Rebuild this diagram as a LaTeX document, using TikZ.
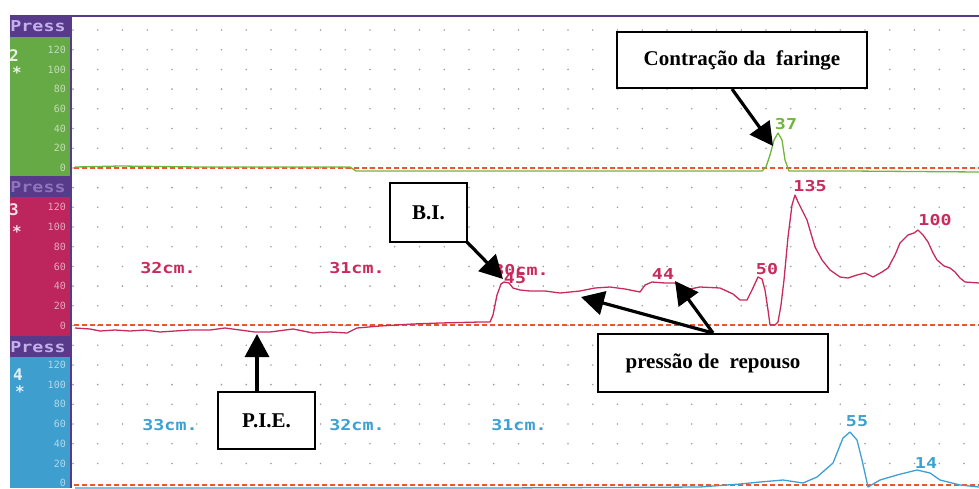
\documentclass[tikz,border=0pt]{standalone}
\usepackage{fontspec}
\usetikzlibrary{calc,arrows.meta}
\newfontfamily\notefont{Liberation Serif}
\newfontfamily\scopefont{DejaVu Sans Mono}
\newcommand{\widetxt}[1]{\scalebox{1.22}[1]{#1}}

\definecolor{headpurple}{RGB}{88,58,138}
\definecolor{presstext}{RGB}{196,176,236}
\definecolor{panelgreen}{RGB}{102,170,70}
\definecolor{panelred}{RGB}{188,38,92}
\definecolor{panelblue}{RGB}{62,158,206}
\definecolor{tracegreen}{RGB}{112,182,60}
\definecolor{tracered}{RGB}{200,42,92}
\definecolor{traceblue}{RGB}{60,160,212}
\definecolor{zerored}{RGB}{234,86,46}

\tikzset{
  note/.style={ % annotation box over the tracing
    draw, rectangle, line width=2pt, fill=white, inner sep=0pt,
    font=\notefont\bfseries\fontsize{21}{24}\selectfont
  },
  pointer/.style={line width=3.2pt, -{Triangle[length=23pt,width=24pt]}},
  scopelbl/.style={inner sep=0pt, font=\scopefont\bfseries\fontsize{15}{15}\selectfont},
  scalelbl/.style={anchor=east, inner sep=0pt, font=\scopefont\fontsize{10}{10}\selectfont},
  presslbl/.style={inner sep=0pt, text=presstext, font=\scopefont\bfseries\fontsize{15}{15}\selectfont},
  chanlbl/.style={inner sep=0pt, font=\scopefont\bfseries\fontsize{16}{16}\selectfont},
  trace/.style={line width=1.3pt, line join=round},
  zeroline/.style={draw=zerored, line width=1.9pt, dash pattern=on 5pt off 3pt}
}

\begin{document}
\begin{tikzpicture}[x=1pt, y=-1pt]
  \useasboundingbox (0,0) rectangle (979,488);

  % channel panels on the left
  \fill[headpurple] (10,15) rectangle (71,37);
  \fill[panelgreen] (10,37) rectangle (71,176);
  \fill[headpurple] (10,176) rectangle (71,197);
  \fill[panelred] (10,197) rectangle (71,336);
  \fill[headpurple] (10,336) rectangle (71,357);
  \fill[panelblue] (10,357) rectangle (71,488);

  \node[presslbl] (press2) at (38,26) {\widetxt{Press}};
  \node[presslbl, text=presstext!50!headpurple] (press3) at (38,187) {\widetxt{Press}};
  \node[presslbl] (press4) at (38,347) {\widetxt{Press}};

  \node[chanlbl, text=white!85!panelgreen] (ch2) at (14,56) {2};
  \node[chanlbl, text=white!85!panelgreen] (st2) at (17,73) {*};
  \node[chanlbl, text=white!85!panelred] (ch3) at (14,210) {3};
  \node[chanlbl, text=white!85!panelred] (st3) at (17,232) {*};
  \node[chanlbl, text=white!85!panelblue] (ch4) at (18,375) {4};
  \node[chanlbl, text=white!85!panelblue] (st4) at (20,392) {*};

  \foreach \v [count=\k] in {120,100,80,60,40,20,0} {
    \node[scalelbl, text=white!60!panelgreen] (g\v) at (66,{30+19.7*\k}) {\v};
    \node[scalelbl, text=white!60!panelred] (r\v) at (66,{30+19.7*(8+\k)}) {\v};
    \node[scalelbl, text=white!60!panelblue] (b\v) at (66,{30+19.7*(16+\k)}) {\v};
  }

  % chart frame and grid
  \draw[headpurple, line width=2.2pt] (70,16) -- (979,16);
  \draw[headpurple, line width=1.6pt] (71,15) -- (71,488);
  \foreach \i in {0,...,36}
    \foreach \j in {0,...,22}
      \fill[gray!75] ({73+24.75*\i},{30+19.7*\j}) circle (0.9pt);

  % zero lines
  \draw[zeroline] (74,168) -- (979,168);
  \draw[zeroline] (74,325) -- (979,325);
  \draw[zeroline] (74,485) -- (979,485);

  % pressure traces
  \draw[trace, tracegreen] plot coordinates {(75,167) (120,166) (200,167) (280,167)
    (350,167) (356,171) (450,171) (600,171) (700,171) (762,171) (766,167) (770,155)
    (774,140) (778,133) (782,140) (785,160) (789,171) (850,171) (979,172)};
  \draw[trace, tracered] plot coordinates {(75,328) (90,329) (100,331) (115,330)
    (130,331) (145,330) (160,332) (175,331) (190,330) (210,330) (225,328) (240,330)
    (255,332) (270,332) (293,329) (313,333) (330,332) (347,333) (357,328) (380,326)
    (413,324) (440,323) (480,322) (490,322) (493,315) (497,295) (501,284) (504,282)
    (509,283) (513,288) (520,290) (530,291) (545,291) (560,293) (570,292) (580,291)
    (595,288) (610,287) (625,289) (640,292) (645,285) (652,282) (665,283) (675,283)
    (682,288) (690,289) (700,287) (720,288) (733,294) (740,300) (747,300) (752,290)
    (758,277) (762,279) (765,290) (768,310) (770,325) (775,325) (778,322) (781,305)
    (784,280) (788,237) (792,205) (795,195) (798,202) (803,212) (807,220) (812,237)
    (815,247) (822,260) (830,270) (840,277) (848,278) (857,275) (865,273) (873,277)
    (882,272) (888,268) (895,255) (900,243) (908,235) (914,233) (918,230) (923,235)
    (928,242) (933,253) (937,260) (944,266) (950,268) (955,272) (960,278) (965,282)
    (979,283)};
  \draw[trace, traceblue] plot coordinates {(75,488) (300,488) (500,488) (700,487)
    (740,484) (760,482) (783,480) (803,483) (817,477) (833,463) (843,438) (850,432)
    (857,440) (862,460) (868,487) (880,480) (897,475) (917,470) (930,473) (940,480)
    (960,485) (979,487)};

  % position and peak labels
  \node[scopelbl, text=tracered] (pos32) at (168,268) {\widetxt{32cm.}};
  \node[scopelbl, text=tracered] (pos31) at (357,268) {\widetxt{31cm.}};
  \node[scopelbl, text=tracered] (pos30) at (521,270) {\widetxt{30cm.}};
  \node[scopelbl, text=tracered] (pk45) at (515,278) {\widetxt{45}};
  \node[scopelbl, text=tracered] (pk44) at (663,274) {\widetxt{44}};
  \node[scopelbl, text=tracered] (pk50) at (767,269) {\widetxt{50}};
  \node[scopelbl, text=tracered] (pk135) at (810,186) {\widetxt{135}};
  \node[scopelbl, text=tracered] (pk100) at (935,220) {\widetxt{100}};
  \node[scopelbl, text=tracegreen] (pk37) at (786,124) {\widetxt{37}};
  \node[scopelbl, text=traceblue] (lo33) at (170,425) {\widetxt{33cm.}};
  \node[scopelbl, text=traceblue] (lo32) at (357,425) {\widetxt{32cm.}};
  \node[scopelbl, text=traceblue] (lo31) at (519,425) {\widetxt{31cm.}};
  \node[scopelbl, text=traceblue] (pk55) at (857,421) {\widetxt{55}};
  \node[scopelbl, text=traceblue] (pk14) at (926,463) {\widetxt{14}};

  % annotation boxes
  \node[note, minimum width=250pt, minimum height=56pt] (faringe) at (742,60) {Contração da \ faringe};
  \node[note, minimum width=77pt, minimum height=59pt] (bi) at (428.5,212.5) {B.I.};
  \node[note, minimum width=230pt, minimum height=58pt] (repouso) at (713,363) {pressão de \ repouso};
  \node[note, minimum width=97pt, minimum height=57pt] (pie) at (266.5,420.5) {P.I.E.};

  \coordinate (tip37) at (773,146);
  \coordinate (tip45) at (503,279);
  \coordinate (tipflat) at (581,297);
  \coordinate (tip44) at (675,281);
  \coordinate (tippie) at (257,334);

  \draw[pointer] ([xshift=-10pt]faringe.south) -- (tip37);
  \draw[pointer] ([shift={(-2pt,2pt)}]bi.south east) -- (tip45);
  \draw[pointer] (repouso.north) -- (tipflat);
  \draw[pointer] (repouso.north) -- (tip44);
  \draw[pointer] ([xshift=-9.5pt]pie.north) -- (tippie);
\end{tikzpicture}
\end{document}
